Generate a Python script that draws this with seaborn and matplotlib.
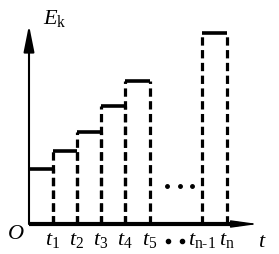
import matplotlib
matplotlib.use("Agg")
import matplotlib.pyplot as plt
import seaborn as sns
import pandas as pd

# ---- data ----
t_left = [0, 1, 2, 3, 4, 7.2]
t_right = [1, 2, 3, 4, 5.04, 8.25]
Ek = [2.3, 3.05, 3.85, 4.9, 5.95, 7.95]
tick_pos = [1, 2, 3, 4, 5.04, 7.2, 8.25]
tick_labels = [r"$t_{1}$", r"$t_{2}$", r"$t_{3}$", r"$t_{4}$", r"$t_{5}$",
               r"$t_{\mathrm{n\text{-}1}}$", r"$t_{\mathrm{n}}$"]
y_tip = 8.29
x_tip = 9.54

sns.set_theme(style="white")
plt.rcParams["mathtext.fontset"] = "custom"
plt.rcParams["mathtext.rm"] = "Liberation Serif"
plt.rcParams["mathtext.it"] = "Liberation Serif:italic"
plt.rcParams["font.family"] = ["Liberation Serif", "DejaVu Sans"]
plt.rcParams["text.color"] = "black"

fig = plt.figure(figsize=(2.79, 2.54), dpi=100)
ax = fig.add_axes([0, 0, 1, 1])
ax.set_xlim(-29 / 24, (279 - 29) / 24)
ax.set_ylim(-30 / 24, (254 - 30) / 24)
ax.axis("off")

# bar tops
rows = []
for i, (l, r, h) in enumerate(zip(t_left, t_right, Ek)):
    rows.append({"bar": i, "t": l, "E": h})
    rows.append({"bar": i, "t": r, "E": h})
df = pd.DataFrame(rows)
sns.lineplot(data=df, x="t", y="E", units="bar", estimator=None, sort=False,
             color="black", lw=2.6, ax=ax, legend=False)
for line in ax.lines:
    line.set_solid_capstyle("butt")

# dashed sides
dash = (0, (2.6, 1.4))
for i, (l, r, h) in enumerate(zip(t_left, t_right, Ek)):
    xs = [r] if i == 0 else [l, r]
    for x in xs:
        ax.plot([x, x], [0, h], color="black", lw=2.3, linestyle=dash,
                dash_capstyle="butt")

# axes with arrows
ax.annotate("", xy=(0, y_tip), xytext=(0, 0),
            arrowprops=dict(arrowstyle="-|>,head_length=16,head_width=3.2",
                            mutation_scale=1, lw=1.5, color="black",
                            shrinkA=0, shrinkB=0))
ax.plot([0, x_tip - 0.8], [0, 0], color="black", lw=3.0,
        solid_capstyle="butt")
ax.annotate("", xy=(x_tip, 0), xytext=(0, 0),
            arrowprops=dict(arrowstyle="-|>,head_length=16,head_width=2.2",
                            mutation_scale=1, lw=1.0, color="black",
                            shrinkA=0, shrinkB=0))

# labels
ax.text(0.58, 8.55, r"$E_{\mathrm{k}}$", fontsize=16, ha="left", va="center",
        color="black")
ax.text(-0.56, -0.42, r"$O$", fontsize=16, ha="center", va="center",
        color="black")
for x, lab in zip(tick_pos, tick_labels):
    ax.text(x, -0.7, lab, fontsize=16, ha="center", va="center",
            color="black")
ax.text(9.73, -0.78, r"$t$", fontsize=16, ha="center", va="center",
        color="black")

# ellipsis
for x in [5.75, 6.29, 6.79]:
    ax.plot(x, 1.58, "o", color="black", ms=2.5)
for x in [5.79, 6.37]:
    ax.plot(x, -0.7, "o", color="black", ms=3)

fig.savefig("out.png", dpi=100)
